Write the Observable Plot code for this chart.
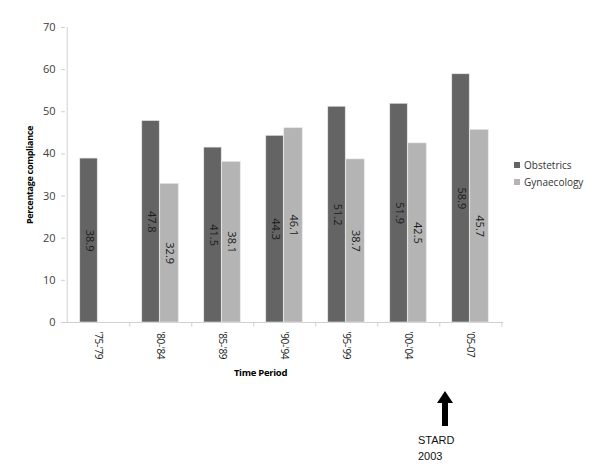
<!DOCTYPE html>
<html>
<head>
<meta charset="utf-8">
<script src="https://cdn.jsdelivr.net/npm/d3@7"></script>
<script src="https://cdn.jsdelivr.net/npm/@observablehq/plot@0.6"></script>
<style>
  body { margin: 0; background: #fff; }
  #wrap { position: relative; width: 600px; height: 474px; font-family: "Open Sans", "DejaVu Sans", sans-serif; }
  .leg { position: absolute; left: 514px; font-size: 10px; color: #333; }
  .leg span { display: inline-block; width: 6px; height: 6px; margin-right: 4px; vertical-align: 1px; }
  .note { position: absolute; left: 418px; top: 432px; font-size: 11px; line-height: 16px; color: #111; font-family: "Liberation Sans", Arial, sans-serif; }
  .xlab text { letter-spacing: -0.4px; }
  .ttl text { letter-spacing: -0.3px; }
</style>
</head>
<body>
<div id="wrap"></div>
<script>
const periods = ["'75-'79", "'80-'84", "'85-'89", "'90-'94", "'95-'99", "'00-'04", "'05-07"];
const obstetrics = [38.9, 47.8, 41.5, 44.3, 51.2, 51.9, 58.9];
const gynaecology = [null, 32.9, 38.1, 46.1, 38.7, 42.5, 45.7];
const seriesNames = ["Obstetrics", "Gynaecology"];
const seriesColors = ["#646464", "#b4b4b4"];
const yTicks = [0, 10, 20, 30, 40, 50, 60, 70];

const obs = periods.map((p, i) => ({period: p, value: obstetrics[i]}));
const gyn = periods.map((p, i) => ({period: p, value: gynaecology[i]})).filter(d => d.value != null);

const bandStep = (503 - 65) / periods.length;
const half = bandStep / 2;

const chart = Plot.plot({
  width: 600,
  height: 474,
  marginLeft: 65,
  marginRight: 97,
  marginTop: 27,
  marginBottom: 152,
  style: {fontFamily: "'Open Sans', 'DejaVu Sans', sans-serif", fontSize: "11px", color: "#404040"},
  x: {domain: periods, padding: 0, label: null},
  y: {domain: [0, 70], ticks: yTicks, label: null},
  marks: [
    Plot.ruleY([0], {stroke: "#d0d0d0"}),
    Plot.ruleX([periods[0]], {x: d => d, dx: -half, y1: 0, y2: 70, stroke: "#d0d0d0"}),
    Plot.ruleX(periods, {x: d => d, dx: half, y1: 0, y2: -1.1, stroke: "#d0d0d0"}),
    Plot.barY(obs, {x: "period", y: "value", fill: seriesColors[0], stroke: "#e6e6e6", strokeWidth: 0.6, insetLeft: half - 18.5, insetRight: half + 0.5}),
    Plot.barY(gyn, {x: "period", y: "value", fill: seriesColors[1], stroke: "#e6e6e6", strokeWidth: 0.6, insetLeft: half - 0.5, insetRight: half - 18.5}),
    Plot.text(obs, {x: "period", y: d => d.value / 2, text: d => d.value.toFixed(1), dx: -9, rotate: 90, fill: "#1a1a1a", fontSize: 11}),
    Plot.text(gyn, {x: "period", y: d => d.value / 2, text: d => d.value.toFixed(1), dx: 9, rotate: 90, fill: "#1a1a1a", fontSize: 11}),
    Plot.axisY({ticks: yTicks, tickSize: 4, tickPadding: 6, stroke: "#d0d0d0", fill: "#404040", fontSize: 11, label: null}),
    Plot.axisX({tickSize: 0, tickRotate: 90, tickPadding: 9, fill: "#1a1a1a", fontSize: 10, label: null, className: "xlab"}),
    Plot.text(["Percentage compliance"], {frameAnchor: "left", textAnchor: "middle", dx: -35, rotate: -90, fontWeight: "bold", fontSize: 9, fill: "#000", className: "ttl"}),
    Plot.text(["Time Period"], {frameAnchor: "bottom", dx: -24, dy: 53, fontWeight: "bold", fontSize: 9.5, fill: "#000", className: "ttl"})
  ]
});

const wrap = document.getElementById("wrap");
wrap.appendChild(chart);

seriesNames.forEach((name, i) => {
  const d = document.createElement("div");
  d.className = "leg";
  d.style.top = (158 + i * 17) + "px";
  d.innerHTML = `<span style="background:${seriesColors[i]}"></span>${name}`;
  wrap.appendChild(d);
});

const ns = "http://www.w3.org/2000/svg";
const arr = document.createElementNS(ns, "svg");
arr.setAttribute("width", "20");
arr.setAttribute("height", "36");
arr.style.position = "absolute";
arr.style.left = "435px";
arr.style.top = "391px";
arr.innerHTML = '<polygon points="10,0 18,12 13,12 13,35 7,35 7,12 2,12" fill="#000"/>';
wrap.appendChild(arr);

const note = document.createElement("div");
note.className = "note";
note.innerHTML = "STARD<br>2003";
wrap.appendChild(note);
</script>
</body>
</html>
